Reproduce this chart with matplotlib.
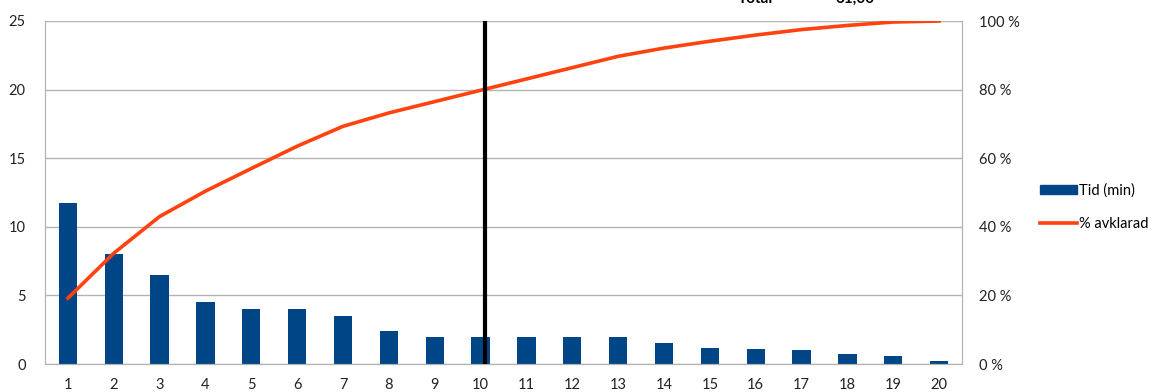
import matplotlib
matplotlib.use("Agg")
import matplotlib.pyplot as plt
from matplotlib.lines import Line2D
from matplotlib.patches import Patch

# data
kategori = list(range(1, 21))
tid_min = [11.7, 8, 6.5, 4.5, 4, 4, 3.5, 2.4, 2, 2,
           2, 2, 2, 1.5, 1.2, 1.1, 1, 0.7, 0.6, 0.2]
avklarad = [19.2, 32.3, 43.0, 50.4, 57.0, 63.5, 69.3, 73.2, 76.5, 79.8,
            83.1, 86.4, 89.7, 92.1, 94.1, 95.9, 97.5, 98.7, 99.7, 100]
grans = 10.1  # the 80 % marker line

blue = "#004586"
orange = "#ff420e"
grid = "#b3b3b3"

plt.rcParams["font.family"] = ["Lato", "DejaVu Sans"]
plt.rcParams["font.size"] = 10.5

fig = plt.figure(figsize=(11.55, 3.92), dpi=100)
ax = fig.add_axes([45 / 1155, 28 / 392, 917 / 1155, 343 / 392])
ax2 = ax.twinx()

ax.bar(kategori, tid_min, width=0.4, color=blue, zorder=2)
ax.set_xlim(0.5, 20.5)
ax.set_ylim(0, 25)
ax.set_yticks([0, 5, 10, 15, 20, 25])
ax.set_xticks(kategori)
ax.yaxis.grid(True, color=grid, lw=1)
ax.set_axisbelow(True)
ax.tick_params(length=0, labelsize=10.5, colors="#222222")
ax.tick_params(axis="x", pad=10)
ax.tick_params(axis="y", pad=14)

ax2.plot(kategori, avklarad, color=orange, lw=2.6, zorder=3)
ax2.set_ylim(0, 100)
ax2.set_yticks([0, 20, 40, 60, 80, 100])
ax2.set_yticklabels(["%d %%" % v for v in [0, 20, 40, 60, 80, 100]])
ax2.tick_params(length=0, labelsize=10.5, colors="#222222", pad=12)
ax2.axvline(grans, color="black", lw=3, zorder=4)

for a in (ax, ax2):
    for s in a.spines.values():
        s.set_color(grid)
    a.spines["top"].set_visible(False)

handles = [Patch(color=blue), Line2D([], [], color=orange, lw=2.6)]
fig.legend(handles, ["Tid (min)", "% avklarad"], loc="upper left",
           bbox_to_anchor=(1027 / 1155, 1 - 170 / 392), frameon=False,
           handlelength=2.5, handleheight=0.6, handletextpad=0.15,
           labelspacing=1.35, fontsize=10.5)

# cut-off text above the chart
fig.text(738 / 1155, 1 - 3 / 392, "Total", va="baseline", fontsize=11, weight="bold")
fig.text(835 / 1155, 1 - 3 / 392, "61,00", va="baseline", fontsize=11, weight="bold")

fig.savefig("out.png", dpi=100)
